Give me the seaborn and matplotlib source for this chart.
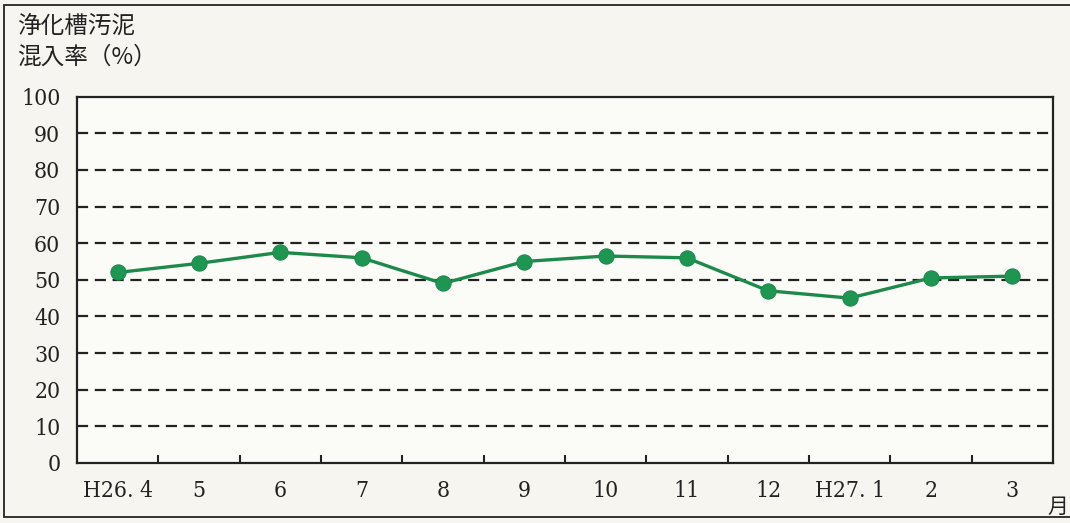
import numpy as np
import pandas as pd
import seaborn as sns
import matplotlib.pyplot as plt
from matplotlib.lines import Line2D

months = ['H26. 4', '5', '6', '7', '8', '9', '10', '11', '12', 'H27. 1', '2', '3']
rate = [52, 54.5, 57.5, 56, 49, 55, 56.5, 56, 47, 45, 50.5, 51]
y_ticks = [0, 10, 20, 30, 40, 50, 60, 70, 80, 90, 100]

sns.set_theme(style='white')
plt.rcParams['font.family'] = ['Noto Sans CJK JP', 'DejaVu Sans']

df = pd.DataFrame({'pos': np.arange(len(months)), 'rate': rate})

fig = plt.figure(figsize=(10.7, 5.23), dpi=100, facecolor='#f6f5ef')
ax = fig.add_axes([0.072, 0.115, 0.912, 0.70])
ax.set_facecolor('#fbfbf8')

sns.lineplot(data=df, x='pos', y='rate', ax=ax, color='#1d8a4c', linewidth=2.4,
             marker='o', markersize=11, markeredgecolor='#1d8a4c',
             markerfacecolor='#1e9652')

# dashed horizontal grid
for v in y_ticks[1:-1]:
    ax.axhline(v, color='#222222', linestyle=(0, (5, 3)), linewidth=1.6, zorder=0)

ax.set_xlim(-0.5, len(months) - 0.5)
ax.set_ylim(0, 100)
ax.set_yticks(y_ticks)
ax.set_xticks(df['pos'])
ax.set_xticklabels(months)
ax.set_xticks(np.arange(0.5, len(months) - 1), minor=True)
ax.tick_params(axis='x', which='major', length=0, pad=12)
ax.tick_params(axis='x', which='minor', direction='in', length=6, width=1.5,
               color='#222222', bottom=True)
ax.tick_params(axis='y', length=0, pad=12)
for lab in ax.get_xticklabels() + ax.get_yticklabels():
    lab.set_fontfamily('DejaVu Serif')
    lab.set_fontstretch('condensed')
    lab.set_fontsize(16.5)
    lab.set_color('#222222')

for s in ax.spines.values():
    s.set_color('#222222')
    s.set_linewidth(1.6)

ax.set_xlabel('')
ax.set_ylabel('')

fig.text(0.016, 0.950, '浄化槽汚泥', fontsize=17, color='#222222', va='center')
fig.text(0.016, 0.890, '混入率（%）', fontsize=17, color='#222222', va='center')
fig.text(0.989, 0.03, '月', fontsize=15, color='#222222', va='center', ha='center')

# outer frame of the figure
for xs, ys in [([0.004, 0.004], [0.012, 0.99]),
               ([0.004, 1.0], [0.99, 0.99]),
               ([0.004, 1.0], [0.012, 0.012])]:
    fig.add_artist(Line2D(xs, ys, color='#333333', linewidth=1.4))

fig.savefig('out.png', dpi=100, facecolor=fig.get_facecolor())
